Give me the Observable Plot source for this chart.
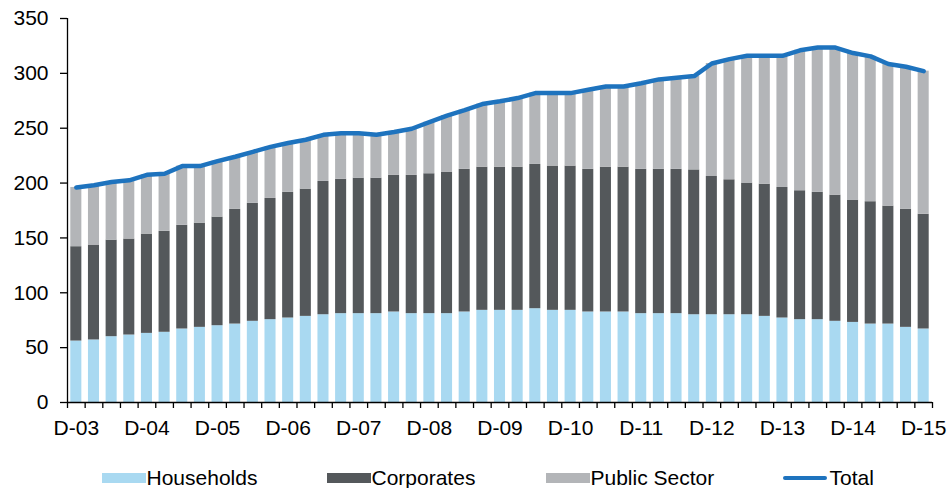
<!DOCTYPE html>
<html><head><meta charset="utf-8">
<script src="https://cdn.jsdelivr.net/npm/d3@7"></script>
<script src="https://cdn.jsdelivr.net/npm/@observablehq/plot@0.6"></script>
<style>
body{margin:0;background:#fff;font-family:"Liberation Sans",Arial,sans-serif;}
#wrap{position:relative;width:947px;height:488px;overflow:hidden;}
#legend{position:absolute;left:0;top:448px;width:947px;height:40px;font-size:21px;color:#000;}
.sw{position:absolute;top:25px;height:10px;width:44px;}
.ln{position:absolute;top:28px;height:4px;width:44px;border-radius:2px;}
.lb{position:absolute;top:19px;line-height:21px;white-space:nowrap;}
</style>
</head><body>
<div id="wrap"><div id="chart"></div>
<div id="legend"></div></div>
<script>
// Series (quarterly, Dec-03 .. Dec-15)
const yearLabels = ["D-03","D-04","D-05","D-06","D-07","D-08","D-09","D-10","D-11","D-12","D-13","D-14","D-15"];
const households = [56,57,60,61.5,63,64,67,68.5,70,71.5,74,75.5,77,78.5,80,81,81,81,82.5,81,81,81,82.5,84,84,84,85.5,84,84,82.5,82.5,82.5,81,81,81,80,80,80,80,78.5,77,75.5,75.5,74,73,71.5,71.5,68.5,67];
const corporates = [86,86.5,88,87.5,90.5,92,94.5,95,99,104.5,107.5,110.5,114.5,116,121.5,122.5,123.5,123.5,124.5,126,127.5,129,130,130.5,130.5,130.5,131.5,131.5,131.5,130,132,132,131.5,131.5,131.5,132,126,123,120,120.5,119,117.5,116,115,111.5,111.5,107.5,107.5,104.5];
const publicSector = [54,54.5,53,53.5,54,52.5,54,52,51,48,47,47,45,45,42.5,42,41,39.5,39.5,42.5,47,51.5,54,57.5,60,63,65,66.5,66.5,72.5,73.5,73.5,78.5,82,83.5,85.5,103,110,116,117,120,128,132,134.5,134,132.5,129.5,130,130.5];
const total = [196,198,201,202.5,207.5,208.5,215.5,215.5,220,224,228.5,233,236.5,239.5,244,245.5,245.5,244,246.5,249.5,255.5,261.5,266.5,272,274.5,277.5,282,282,282,285,288,288,291,294.5,296,297.5,309,313,316,316,316,321,323.5,323.5,318.5,315.5,308.5,306,302];
const seriesNames = ["Households","Corporates","Public Sector"];
const seriesColors = ["#a9d9f1","#54585b","#b3b5b8"];
const totalColor = "#1e73be";
const yTicks = [0,50,100,150,200,250,300,350];

const n = total.length;
const bars = [];
for (let i = 0; i < n; i++) {
  bars.push({i, series: "Households", value: households[i]});
  bars.push({i, series: "Corporates", value: corporates[i]});
  bars.push({i, series: "Public Sector", value: publicSector[i]});
}
const lineData = total.map((v, i) => ({i, v}));
const boundaries = d3.range(-0.5, n, 1);
const labelIdx = yearLabels.map((_, k) => k * 4);

const chart = Plot.plot({
  width: 947,
  height: 448,
  marginLeft: 67,
  marginRight: 15,
  marginTop: 18,
  marginBottom: 46,
  style: {fontFamily: "Liberation Sans, Arial, sans-serif", fontSize: "21px", color: "#000", background: "#fff"},
  x: {type: "linear", domain: [-0.5, n - 0.5]},
  y: {domain: [0, 350]},
  color: {domain: seriesNames, range: seriesColors},
  marks: [
    Plot.rectY(bars, Plot.stackY({
      x1: d => d.i - 0.5, x2: d => d.i + 0.5, y: "value", z: "series", fill: "series",
      order: seriesNames, insetLeft: 3.3, insetRight: 3.3
    })),
    Plot.lineY(lineData, {x: "i", y: "v", stroke: totalColor, strokeWidth: 4.5, strokeLinejoin: "round", strokeLinecap: "round"}),
    Plot.ruleY([0], {stroke: "#000", strokeWidth: 1.3}),
    Plot.ruleX([-0.5], {y1: 0, y2: 350, stroke: "#000", strokeWidth: 1.3}),
    Plot.axisY(yTicks, {tickSize: 7, tickPadding: 12, label: null, strokeWidth: 1.3}),
    Plot.axisX(boundaries, {tickSize: 6, tickFormat: () => "", label: null, strokeWidth: 1.3}),
    Plot.axisX(labelIdx, {tickSize: 0, tickPadding: 18, tickFormat: i => yearLabels[i / 4], label: null})
  ]
});
document.getElementById("chart").appendChild(chart);

const legend = document.getElementById("legend");
const items = [
  {name: "Households", color: seriesColors[0], sw: 102, tx: 146.5, line: false},
  {name: "Corporates", color: seriesColors[1], sw: 327, tx: 371.5, line: false},
  {name: "Public Sector", color: seriesColors[2], sw: 546, tx: 590.5, line: false},
  {name: "Total", color: totalColor, sw: 783, tx: 829.5, line: true}
];
for (const it of items) {
  const s = document.createElement("div");
  s.className = it.line ? "ln" : "sw";
  s.style.left = it.sw + "px";
  s.style.background = it.color;
  legend.appendChild(s);
  const t = document.createElement("div");
  t.className = "lb";
  t.style.left = it.tx + "px";
  t.textContent = it.name;
  legend.appendChild(t);
}
</script>
</body></html>
